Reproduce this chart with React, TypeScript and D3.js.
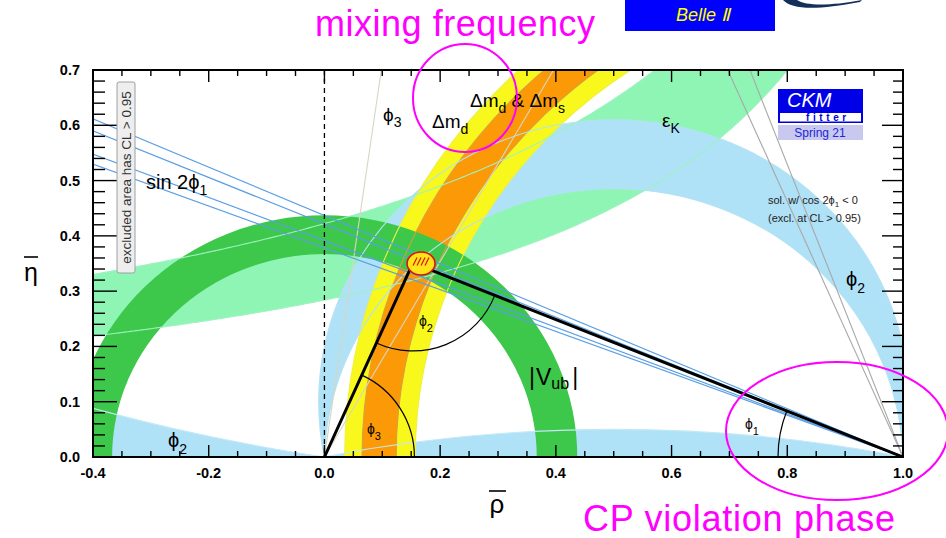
import React from "react";
import * as d3 from "d3";

// Axis ticks
const rhoTicks = [-0.4, -0.2, 0.0, 0.2, 0.4, 0.6, 0.8, 1.0];
const etaTicks = [0.0, 0.1, 0.2, 0.3, 0.4, 0.5, 0.6, 0.7];

// Global fit: apex of the unitarity triangle and its confidence region
const apexFit = [0.153, 0.351];
const apexRegion = [0.167, 0.35, 0.0242, 0.0208]; // centre rho, centre eta, half-width rho, half-width eta

// |Vub| : annulus around (0,0)
const vubRadii = [0.367, 0.437];
// Δmd & Δms : annuli around (1,0)
const dmRadii95 = [0.843, 0.965];
const dmRadii68 = [0.876, 0.935];
// sin 2φ1 : lines through (1,0), angle φ1 in degrees
const sin2phi1Deg = [23.6, 22.85, 21.37, 20.73];
// second sin 2φ1 solution (cos 2φ1 < 0), angle in degrees
const cos2phi1NegDeg = [66.6, 69.3];
// φ3 : rays from (0,0), degrees
const phi3Deg = [60.5, 82.0];
// εK : hyperbolae eta * (a - rho) = c
const epsKA = [1.346, 1.438];
const epsKC = [0.382, 0.607];
// φ2 : circles through (0,0) and (1,0), given by the eta of their centre
const phi2BandK = [0.1, -0.015];
const phi2BottomK = -2.475;
const phi2LeftK = 3.225;

const FONT = "'Liberation Sans', Arial, Helvetica, sans-serif";

export default function App() {
  const x = d3.scaleLinear().domain([-0.4, 1.0]).range([93, 903]);
  const y = d3.scaleLinear().domain([0, 0.7]).range([457, 70]);
  const kx = x(1) - x(0);
  const ky = y(0) - y(1);
  const [L, R] = x.range();
  const [B, T] = y.range();

  const ell = (cr: number, ce: number, r: number) => {
    const rx = r * kx, ry = r * ky, cx = x(cr), cy = y(ce);
    return `M${cx - rx},${cy}A${rx},${ry} 0 1 0 ${cx + rx},${cy}A${rx},${ry} 0 1 0 ${cx - rx},${cy}Z`;
  };
  // circle through (0,0) and (1,0) whose centre sits at (0.5, k)
  const chord = (k: number) => ell(0.5, k, Math.sqrt(0.25 + k * k));
  const plotRect = `M${L},${T}H${R}V${B}H${L}Z`;

  const line = d3.line<[number, number]>().x(d => x(d[0])).y(d => y(d[1]));
  const rhoGrid = d3.range(-0.42, 1.021, 0.005);
  const epsEdge = (i: number) => rhoGrid.map(r => [r, epsKC[i] / (epsKA[i] - r)] as [number, number]);
  const epsPoly = [...epsEdge(0), ...epsEdge(1).reverse()];

  const rad = (d: number) => (d * Math.PI) / 180;

  const xMinor = d3.range(-0.4, 1.0001, 0.05);
  const yMinor = d3.range(0, 0.7001, 0.02);

  // Triangle vertices in pixels
  const O = [x(0), y(0)];
  const A = [x(apexFit[0]), y(apexFit[1])];
  const E = [x(1), y(0)];
  const angleArc = (c: number[], p1: number[], p2: number[], r: number) => {
    const u = (p: number[]) => {
      const dx = p[0] - c[0], dy = p[1] - c[1], n = Math.hypot(dx, dy);
      return [c[0] + (r * dx) / n, c[1] + (r * dy) / n];
    };
    const a = u(p1), b = u(p2);
    return `M${a[0]},${a[1]}A${r},${r} 0 0 0 ${b[0]},${b[1]}`;
  };

  const tickText = { fontFamily: FONT, fontWeight: 700, fontSize: 14.5, fill: "#000" } as const;
  const lbl = { fontFamily: FONT, fill: "#000" } as const;

  const [ac, ae, aw, ah] = apexRegion;

  return (
    <svg width={946} height={538} style={{ position: "absolute", left: 0, top: 0, background: "#fff" }}>
      <defs>
        <clipPath id="plot">
          <rect x={L} y={T} width={R - L} height={B - T} />
        </clipPath>
        <clipPath id="apexClip">
          <ellipse cx={x(ac)} cy={y(ae)} rx={aw * kx} ry={ah * ky} />
        </clipPath>
      </defs>

      <g clipPath="url(#plot)">
        {/* εK */}
        <path d={line(epsPoly) + "Z"} fill="#8ff5b5" />
        {/* φ2 regions */}
        <path d={chord(phi2BandK[0]) + chord(phi2BandK[1])} fill="#afe1f7" fillRule="evenodd" />
        <path d={chord(phi2BottomK)} fill="#afe1f7" />
        <path d={plotRect + chord(phi2LeftK)} fill="#afe1f7" fillRule="evenodd" />
        {/* Δmd & Δms */}
        <path d={ell(1, 0, dmRadii95[1]) + ell(1, 0, dmRadii95[0])} fill="#f8f81c" fillRule="evenodd" />
        <path d={ell(1, 0, dmRadii68[1]) + ell(1, 0, dmRadii68[0])} fill="#fb9a06" fillRule="evenodd" />
        {/* |Vub| */}
        <path d={ell(0, 0, vubRadii[1]) + ell(0, 0, vubRadii[0])} fill="#3dc84b" fillRule="evenodd" />

        {/* contour edges drawn over the fills */}
        <g fill="none" strokeWidth={1.1}>
          <path d={ell(1, 0, dmRadii95[1]) + ell(1, 0, dmRadii95[0])} stroke="#eef040" />
          <path d={ell(1, 0, dmRadii68[1]) + ell(1, 0, dmRadii68[0])} stroke="#d8a040" />
          <path d={chord(phi2BandK[0])} stroke="#b4e2f4" />
          <path d={chord(phi2BandK[1])} stroke="#b4e2f4" />
          <path d={chord(phi2BottomK)} stroke="#c4e8f6" />
          <path d={chord(phi2LeftK)} stroke="#c4e8f6" />
          <path d={line(epsEdge(0))!} stroke="#9ef2c0" />
          <path d={line(epsEdge(1))!} stroke="#9ef2c0" />
        </g>

        {/* φ3 rays */}
        {phi3Deg.map((d, i) => (
          <path key={"g" + i} d={line([[0, 0], [0.8 / Math.tan(rad(d)), 0.8]])!} stroke="#d6d6c4" strokeWidth={1.1} fill="none" />
        ))}
        {/* cos 2φ1 < 0 solution */}
        {cos2phi1NegDeg.map((d, i) => (
          <path key={"c" + i} d={line([[1, 0], [1 - 0.8 / Math.tan(rad(d)), 0.8]])!} stroke="#a8a8a8" strokeWidth={1.1} fill="none" />
        ))}
        {/* sin 2φ1 */}
        {sin2phi1Deg.map((d, i) => (
          <path key={"s" + i} d={line([[1, 0], [-0.45, 1.45 * Math.tan(rad(d))]])!} stroke="#5a9fe4" strokeWidth={1.2} fill="none" />
        ))}

        {/* ρ = 0 */}
        <line x1={x(0)} x2={x(0)} y1={T} y2={B} stroke="#000" strokeWidth={1.3} strokeDasharray="5,4" />

        {/* unitarity triangle */}
        <path d={`M${O[0]},${O[1]}L${A[0]},${A[1]}L${E[0]},${E[1]}`} fill="none" stroke="#000" strokeWidth={3} strokeLinejoin="miter" />
        <g fill="none" stroke="#000" strokeWidth={1.2}>
          <path d={angleArc(O, E, A, 90)} />
          <path d={angleArc(A, O, E, 88)} />
          <path d={angleArc(E, A, O, 125)} />
        </g>

        {/* fit region */}
        <ellipse cx={x(ac)} cy={y(ae)} rx={aw * kx} ry={ah * ky} fill="#ffe41a" />
        <g clipPath="url(#apexClip)" stroke="#e01010" strokeWidth={1.2}>
          {d3.range(4).map(i => (
            <line key={i} x1={x(ac) - 8 + i * 4} y1={y(ae) + 2} x2={x(ac) - 4 + i * 4} y2={y(ae) - 6} />
          ))}
        </g>
        <ellipse cx={x(ac)} cy={y(ae)} rx={aw * kx} ry={ah * ky} fill="none" stroke="#e01010" strokeWidth={1.6} />
      </g>

      {/* frame and ticks */}
      <rect x={L} y={T} width={R - L} height={B - T} fill="none" stroke="#000" strokeWidth={2} />
      <g stroke="#000" strokeWidth={1.4}>
        {xMinor.map((v, i) => {
          const major = Math.abs(Math.round(v * 100) % 20) === 0;
          const len = major ? 12 : 6;
          return (
            <g key={"xt" + i}>
              <line x1={x(v)} x2={x(v)} y1={B} y2={B - len} />
              <line x1={x(v)} x2={x(v)} y1={T} y2={T + len} />
            </g>
          );
        })}
        {yMinor.map((v, i) => {
          const major = Math.round(v * 100) % 10 === 0;
          return (
            <g key={"yt" + i}>
              <line x1={L} x2={L + (major ? 24 : 12)} y1={y(v)} y2={y(v)} />
              <line x1={R} x2={R - (major ? 21 : 10)} y1={y(v)} y2={y(v)} />
            </g>
          );
        })}
      </g>
      {rhoTicks.map(v => (
        <text key={"xl" + v} x={x(v)} y={478} textAnchor="middle" {...tickText}>
          {v.toFixed(1)}
        </text>
      ))}
      {etaTicks.map(v => (
        <text key={"yl" + v} x={80} y={y(v) + 5} textAnchor="end" {...tickText}>
          {v.toFixed(1)}
        </text>
      ))}

      {/* axis titles */}
      <text x={31} y={281} textAnchor="middle" fontSize={25} {...lbl}>η</text>
      <line x1={24} x2={38} y1={257} y2={257} stroke="#000" strokeWidth={1.6} />
      <text x={497} y={513} textAnchor="middle" fontSize={26} {...lbl}>ρ</text>
      <line x1={489} x2={506} y1={491} y2={491} stroke="#000" strokeWidth={1.6} />

      {/* constraint labels */}
      <text x={146} y={189} fontSize={20} {...lbl}>sin 2ϕ<tspan fontSize={14} dy={6}>1</tspan></text>
      <text x={432} y={128} fontSize={19} {...lbl}>Δm<tspan fontSize={14} dy={6}>d</tspan></text>
      <text x={470} y={107} fontSize={19} {...lbl}>Δm<tspan fontSize={14} dy={6}>d</tspan><tspan dy={-6}> &amp; Δm</tspan><tspan fontSize={14} dy={6}>s</tspan></text>
      <text x={383} y={121} fontSize={19} {...lbl}>ϕ<tspan fontSize={14} dy={6}>3</tspan></text>
      <text x={662} y={127} fontSize={19} {...lbl}>ε<tspan fontSize={14} dy={6}>K</tspan></text>
      <text x={529} y={385} fontSize={23} {...lbl}>|<tspan dx={1}>V</tspan><tspan fontSize={16} dy={4}>ub</tspan><tspan dx={3} dy={-4}>|</tspan></text>
      <text x={846} y={286} fontSize={20} {...lbl}>ϕ<tspan fontSize={14} dy={7}>2</tspan></text>
      <text x={168} y={447} fontSize={20} {...lbl}>ϕ<tspan fontSize={14} dy={7}>2</tspan></text>
      <text x={367} y={434} fontSize={14} {...lbl}>ϕ<tspan fontSize={11} dy={6}>3</tspan></text>
      <text x={419} y={326} fontSize={14} {...lbl}>ϕ<tspan fontSize={11} dy={6}>2</tspan></text>
      <text x={745} y={429} fontSize={14} {...lbl}>ϕ<tspan fontSize={11} dy={6}>1</tspan></text>

      {/* exclusion note */}
      <rect x={117} y={82} width={18} height={191} rx={2} fill="#eeeeee" stroke="#a0a0a0" strokeWidth={1} />
      <text transform="translate(131,177.5) rotate(-90)" textAnchor="middle" fontSize={13.5} fill="#333" fontFamily={FONT}>
        excluded area has CL &gt; 0.95
      </text>
      <text x={768} y={204} fontSize={11} fill="#222" fontFamily={FONT}>sol. w/ cos 2ϕ<tspan fontSize={8} dy={3}>1</tspan><tspan dy={-3}> &lt; 0</tspan></text>
      <text x={768} y={222} fontSize={11} fill="#222" fontFamily={FONT}>(excl. at CL &gt; 0.95)</text>

      {/* CKMfitter badge */}
      <rect x={778} y={89} width={85} height={34} fill="#0000e6" />
      <rect x={780} y={113} width={81} height={8.5} fill="#fff" />
      <text x={787} y={107} fontSize={20} fontStyle="italic" fill="#fff" fontFamily={FONT}>CKM</text>
      <text x={806} y={120.5} fontSize={10} fontWeight={700} letterSpacing={3.6} fill="#0000e6" fontFamily={FONT}>fitter</text>
      <rect x={778} y={125} width={85} height={15} fill="#c9c9ef" />
      <text x={820} y={137} textAnchor="middle" fontSize={12} fill="#2424d8" fontFamily={FONT}>Spring 21</text>

      {/* Belle II banner */}
      <rect x={625} y={0} width={150} height={31} fill="#0000ff" />
      <text x={703} y={21} textAnchor="middle" fontSize={18} fontStyle="italic" fill="#ffff00" fontFamily={FONT}>Belle Ⅱ</text>
      <path d="M783,0 C792,10 818,10 860,2 L862,0 C830,6 806,6 797,0 Z" fill="#14305a" />

      {/* annotations */}
      <g fill="none" stroke="#ff00ff" strokeWidth={2}>
        <ellipse cx={465} cy={98} rx={52} ry={54} />
        <ellipse cx={837} cy={431} rx={111} ry={69} />
      </g>
      <text x={315} y={36} fontSize={36} fill="#ff00ff" fontFamily={FONT} textLength={280}>mixing frequency</text>
      <text x={583} y={531} fontSize={36} fill="#ff00ff" fontFamily={FONT} textLength={312}>CP violation phase</text>
    </svg>
  );
}
